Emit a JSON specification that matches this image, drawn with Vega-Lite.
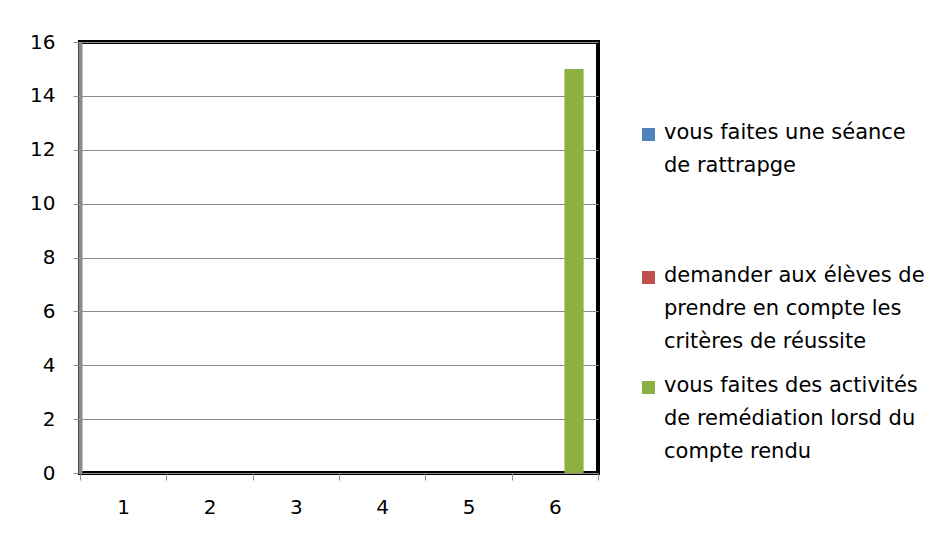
{
  "$schema": "https://vega.github.io/schema/vega-lite/v6.json",
  "width": 518,
  "height": 431,
  "autosize": "none",
  "padding": {"left": 80, "top": 42, "right": 342, "bottom": 63},
  "background": "white",
  "config": {
    "font": "DejaVu Sans",
    "view": {"stroke": "black", "strokeWidth": 4}
  },
  "data": {
    "values": [
      {"cat": "1", "serie": "vous  faites une séance de rattrapge", "val": 0},
      {"cat": "1", "serie": "demander aux élèves de prendre en compte les critères de réussite", "val": 0},
      {"cat": "1", "serie": "vous faites des activités de remédiation lorsd du compte rendu", "val": 0},
      {"cat": "2", "serie": "vous  faites une séance de rattrapge", "val": 0},
      {"cat": "2", "serie": "demander aux élèves de prendre en compte les critères de réussite", "val": 0},
      {"cat": "2", "serie": "vous faites des activités de remédiation lorsd du compte rendu", "val": 0},
      {"cat": "3", "serie": "vous  faites une séance de rattrapge", "val": 0},
      {"cat": "3", "serie": "demander aux élèves de prendre en compte les critères de réussite", "val": 0},
      {"cat": "3", "serie": "vous faites des activités de remédiation lorsd du compte rendu", "val": 0},
      {"cat": "4", "serie": "vous  faites une séance de rattrapge", "val": 0},
      {"cat": "4", "serie": "demander aux élèves de prendre en compte les critères de réussite", "val": 0},
      {"cat": "4", "serie": "vous faites des activités de remédiation lorsd du compte rendu", "val": 0},
      {"cat": "5", "serie": "vous  faites une séance de rattrapge", "val": 0},
      {"cat": "5", "serie": "demander aux élèves de prendre en compte les critères de réussite", "val": 0},
      {"cat": "5", "serie": "vous faites des activités de remédiation lorsd du compte rendu", "val": 0},
      {"cat": "6", "serie": "vous  faites une séance de rattrapge", "val": 0},
      {"cat": "6", "serie": "demander aux élèves de prendre en compte les critères de réussite", "val": 0},
      {"cat": "6", "serie": "vous faites des activités de remédiation lorsd du compte rendu", "val": 15}
    ]
  },
  "mark": {"type": "bar"},
  "encoding": {
    "x": {
      "field": "cat",
      "type": "ordinal",
      "scale": {"paddingInner": 0, "paddingOuter": 0},
      "axis": {
        "title": null,
        "labelAngle": 0,
        "tickBand": "extent",
        "domain": false,
        "ticks": true,
        "tickColor": "#8c8c8c",
        "tickSize": 7,
        "labelPadding": 17,
        "labelFontSize": 20,
        "labelColor": "black"
      }
    },
    "xOffset": {
      "field": "serie",
      "type": "nominal",
      "scale": {"paddingInner": 0, "paddingOuter": 0.75},
      "sort": [
        "vous  faites une séance de rattrapge",
        "demander aux élèves de prendre en compte les critères de réussite",
        "vous faites des activités de remédiation lorsd du compte rendu"
      ]
    },
    "y": {
      "field": "val",
      "type": "quantitative",
      "scale": {"domain": [0, 16], "nice": false},
      "axis": {
        "title": null,
        "values": [0, 2, 4, 6, 8, 10, 12, 14, 16],
        "grid": true,
        "gridColor": "#8c8c8c",
        "gridWidth": 1.2,
        "gridOpacity": 1,
        "domainColor": "#8c8c8c",
        "domainWidth": 4,
        "tickColor": "#8c8c8c",
        "tickSize": 7,
        "labelPadding": 18,
        "labelFontSize": 20,
        "labelColor": "black"
      }
    },
    "color": {
      "field": "serie",
      "type": "nominal",
      "scale": {
        "domain": [
          "vous  faites une séance de rattrapge",
          "demander aux élèves de prendre en compte les critères de réussite",
          "vous faites des activités de remédiation lorsd du compte rendu"
        ],
        "range": ["#4F81BD", "#C0504D", "#8DB043"]
      },
      "legend": {
        "title": null,
        "orient": "none",
        "legendX": 558,
        "legendY": 82,
        "symbolType": "square",
        "symbolSize": 169,
        "symbolStrokeWidth": 0,
        "labelFontSize": 21,
        "labelColor": "black",
        "labelLimit": 400,
        "labelOffset": 5,
        "labelBaseline": "top",
        "rowPadding": 22,
        "encode": {
          "labels": {"update": {"dy": {"value": -13}, "lineHeight": {"value": 33}}}
        },
        "labelExpr": "datum.label == 'vous  faites une séance de rattrapge' ? ['vous  faites une séance', 'de rattrapge', '', ''] : datum.label == 'demander aux élèves de prendre en compte les critères de réussite' ? ['demander aux élèves de', 'prendre en compte les', 'critères de réussite'] : ['vous faites des activités', 'de remédiation lorsd du', 'compte rendu']"
      }
    }
  }
}
